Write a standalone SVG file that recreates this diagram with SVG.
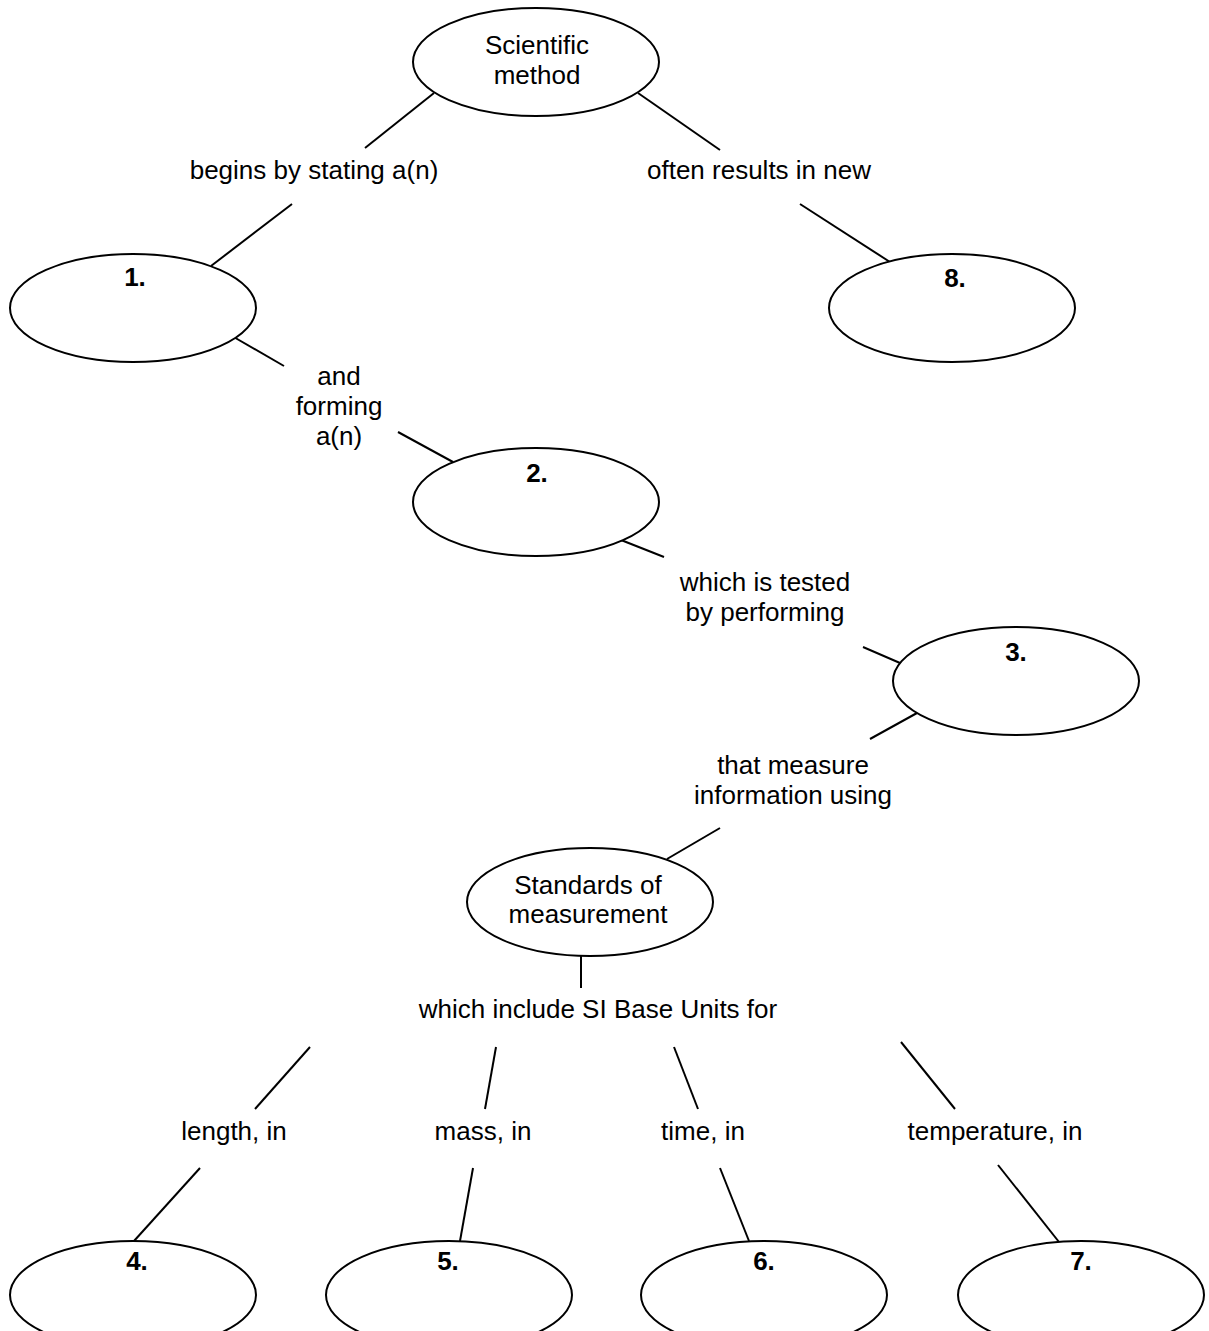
<svg xmlns="http://www.w3.org/2000/svg" width="1209" height="1331" viewBox="0 0 1209 1331">
<style>
.node ellipse{fill:#fff;stroke:#000;stroke-width:2}
text{font-family:"Liberation Sans",Arial,sans-serif;font-size:26px;fill:#000;text-anchor:middle}
.num{font-weight:bold}
#connectors line{stroke:#000;stroke-width:2}
</style>
<rect width="1209" height="1331" fill="#fff"/>
<g id="connectors">
<line x1="434" y1="93" x2="365" y2="148"/>
<line x1="638" y1="93" x2="720" y2="150"/>
<line x1="292" y1="204" x2="211" y2="266"/>
<line x1="800" y1="204" x2="890" y2="262"/>
<line x1="232" y1="336" x2="284" y2="366"/>
<line x1="398" y1="432" x2="453" y2="462"/>
<line x1="621" y1="540" x2="664" y2="557"/>
<line x1="863" y1="647" x2="900" y2="663"/>
<line x1="917" y1="713" x2="870" y2="739"/>
<line x1="720" y1="828" x2="667" y2="859"/>
<line x1="581" y1="956" x2="581" y2="988"/>
<line x1="310" y1="1047" x2="255" y2="1109"/>
<line x1="496" y1="1047" x2="485" y2="1109"/>
<line x1="674" y1="1047" x2="698" y2="1109"/>
<line x1="901" y1="1042" x2="955" y2="1109"/>
<line x1="200" y1="1168" x2="134" y2="1241"/>
<line x1="473" y1="1168" x2="460" y2="1241"/>
<line x1="720" y1="1168" x2="749" y2="1241"/>
<line x1="998" y1="1165" x2="1059" y2="1242"/>
</g>
<g id="labels">
<text x="314" y="179">begins by stating a(n)</text>
<text x="759" y="179">often results in new</text>
<text x="339" y="385">and</text>
<text x="339" y="415">forming</text>
<text x="339" y="445">a(n)</text>
<text x="765" y="591">which is tested</text>
<text x="765" y="621">by performing</text>
<text x="793" y="774">that measure</text>
<text x="793" y="804">information using</text>
<text x="598" y="1018">which include SI Base Units for</text>
<text x="234" y="1140">length, in</text>
<text x="483" y="1140">mass, in</text>
<text x="703" y="1140">time, in</text>
<text x="995" y="1140">temperature, in</text>
</g>
<g id="n-scientific" class="node"><ellipse cx="536" cy="62" rx="123" ry="54"/><text x="537" y="54">Scientific</text><text x="537" y="84">method</text></g>
<g id="n1" class="node"><ellipse cx="133" cy="308" rx="123" ry="54"/><text class="num" x="135" y="286">1.</text></g>
<g id="n8" class="node"><ellipse cx="952" cy="308" rx="123" ry="54"/><text class="num" x="955" y="287">8.</text></g>
<g id="n2" class="node"><ellipse cx="536" cy="502" rx="123" ry="54"/><text class="num" x="537" y="482">2.</text></g>
<g id="n3" class="node"><ellipse cx="1016" cy="681" rx="123" ry="54"/><text class="num" x="1016" y="661">3.</text></g>
<g id="n-standards" class="node"><ellipse cx="590" cy="902" rx="123" ry="54"/><text x="588" y="894">Standards of</text><text x="588" y="923">measurement</text></g>
<g id="n4" class="node"><ellipse cx="133" cy="1295" rx="123" ry="54"/><text class="num" x="137" y="1270">4.</text></g>
<g id="n5" class="node"><ellipse cx="449" cy="1295" rx="123" ry="54"/><text class="num" x="448" y="1270">5.</text></g>
<g id="n6" class="node"><ellipse cx="764" cy="1295" rx="123" ry="54"/><text class="num" x="764" y="1270">6.</text></g>
<g id="n7" class="node"><ellipse cx="1081" cy="1295" rx="123" ry="54"/><text class="num" x="1081" y="1270">7.</text></g>
</svg>
